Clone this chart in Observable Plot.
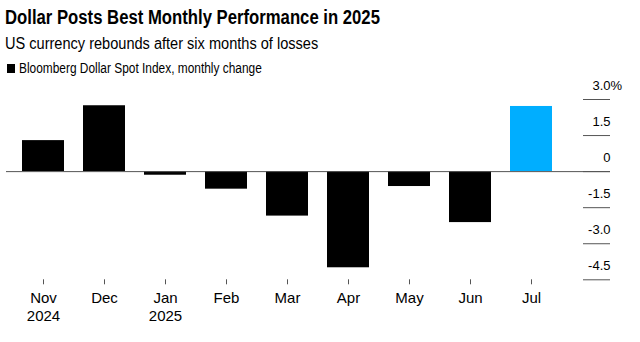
<!DOCTYPE html>
<html>
<head>
<meta charset="utf-8">
<script src="https://cdn.jsdelivr.net/npm/d3@7"></script>
<script src="https://cdn.jsdelivr.net/npm/@observablehq/plot@0.6"></script>
<style>
  html, body { margin: 0; padding: 0; background: #fff; }
  body { width: 640px; height: 342px; position: relative; overflow: hidden; font-family: "Liberation Sans", Arial, sans-serif; color: #000; }
  .title { position: absolute; left: 5px; top: 7px; font-size: 20px; line-height: 20px; font-weight: bold; white-space: nowrap; transform: scaleX(0.835); transform-origin: 0 0; }
  .subtitle { position: absolute; left: 5px; top: 35.5px; font-size: 16px; line-height: 16px; white-space: nowrap; transform: scaleX(0.91); transform-origin: 0 0; }
  .legend { position: absolute; left: 7px; top: 61px; font-size: 14px; line-height: 14px; white-space: nowrap; z-index: 2; }
  .legend .sw { position: absolute; left: 0; top: 3px; width: 8px; height: 9px; background: #000; }
  .legend .lt { position: absolute; left: 12px; top: 0; transform: scaleX(0.85); transform-origin: 0 0; }
  #chart { position: absolute; left: 0; top: 72px; z-index: 1; }
</style>
</head>
<body>
<div class="title">Dollar Posts Best Monthly Performance in 2025</div>
<div class="subtitle">US currency rebounds after six months of losses</div>
<div class="legend"><span class="sw"></span><span class="lt">Bloomberg Dollar Spot Index, monthly change</span></div>
<div id="chart"></div>
<script>
const months = ["Nov", "Dec", "Jan", "Feb", "Mar", "Apr", "May", "Jun", "Jul"];
const monthLabels = ["Nov\n2024", "Dec", "Jan\n2025", "Feb", "Mar", "Apr", "May", "Jun", "Jul"];
const changes = [1.29, 2.74, -0.15, -0.73, -1.85, -4.0, -0.62, -2.12, 2.71];
const highlightMonth = "Jul";
const yTicks = [3, 1.5, 0, -1.5, -3, -4.5];
const yTickLabels = ["3.0", "1.5", "0", "-1.5", "-3.0", "-4.5"];

const data = months.map((m, i) => ({month: m, change: changes[i]}));
const labelOf = new Map(months.map((m, i) => [m, monthLabels[i]]));

const chart = Plot.plot({
  width: 640,
  height: 270,
  marginTop: 27,
  marginBottom: 62.7,
  marginLeft: 6,
  marginRight: 30,
  style: {fontFamily: "Liberation Sans, Arial, sans-serif", color: "#000", background: "transparent", overflow: "visible"},
  x: {domain: months, range: [2, 572.4], padding: 0.305, label: null},
  y: {domain: [-4.5, 3], label: null, axis: null},
  marks: [
    Plot.gridY(yTicks, {insetLeft: 577, stroke: "#555", strokeOpacity: 1}),
    Plot.barY(data, {
      x: "month",
      y: "change",
      fill: d => d.month === highlightMonth ? "#00aeff" : "#000"
    }),
    Plot.ruleY([0], {stroke: "#555"}),
    Plot.axisX({
      tickSize: 5,
      tickPadding: 5,
      stroke: "#555",
      fontSize: 15,
      lineHeight: 1.2,
      tickFormat: m => labelOf.get(m)
    }),
    Plot.text(yTicks, {
      y: d => d,
      text: (d, i) => yTickLabels[i],
      frameAnchor: "right",
      textAnchor: "end",
      dy: -13.5,
      fontSize: 13,
      fill: "#000"
    }),
    Plot.text([yTicks[0]], {
      y: d => d,
      text: () => "%",
      frameAnchor: "right",
      textAnchor: "start",
      dy: -13.5,
      fontSize: 13,
      fill: "#000"
    })
  ]
});
document.getElementById("chart").appendChild(chart);
</script>
</body>
</html>
